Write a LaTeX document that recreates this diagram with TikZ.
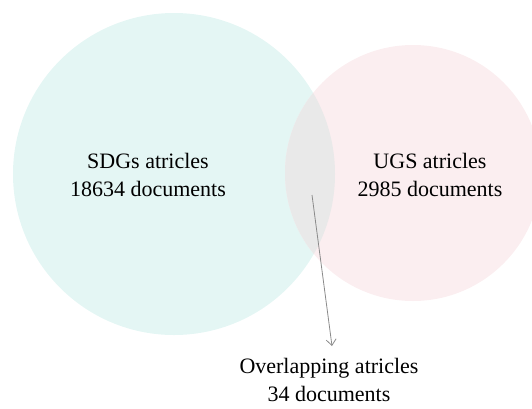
\documentclass[tikz,border=0pt]{standalone}
\usepackage{fontspec}
\setmainfont{Liberation Serif}
\usetikzlibrary{arrows.meta}
\definecolor{sdgfill}{HTML}{E4F6F4}
\definecolor{ugsfill}{HTML}{FBEEF0}
\definecolor{ovlfill}{HTML}{E9E9E9}
\definecolor{arrowgrey}{HTML}{8A8A8A}
\tikzset{
  label/.style={font=\fontsize{22}{28}\selectfont, align=center, text=black, inner sep=0pt, anchor=base},
  venn/.style={circle, draw=none, inner sep=0pt},
  pointer/.style={draw=arrowgrey, line width=0.8pt, -{Straight Barb[length=6pt, width=10pt]}}
}
\begin{document}
\begin{tikzpicture}[x=1pt, y=-1pt]
\useasboundingbox (0,0) rectangle (532,408);
\begin{scope}
\clip (0,0) rectangle (532,408);
\node[venn, fill=sdgfill, minimum size=322pt] (sdg) at (174,174) {};
\node[venn, fill=ugsfill, minimum size=256pt] (ugs) at (413,173) {};
\begin{scope}
\clip (174,174) circle (161);
\fill[ovlfill] (413,173) circle (128);
\end{scope}
\end{scope}
\node[label] (sdgtext) at (148,196) {SDGs atricles\\18634 documents};
\node[label] (ugstext) at (430,196) {UGS atricles\\2985 documents};
\node[label] (ovltext) at (329,401) {Overlapping atricles\\34 documents};
\coordinate (arrstart) at (312,195);
\coordinate (arrend) at (332,346);
\draw[pointer] (arrstart) -- (arrend);
\end{tikzpicture}
\end{document}
